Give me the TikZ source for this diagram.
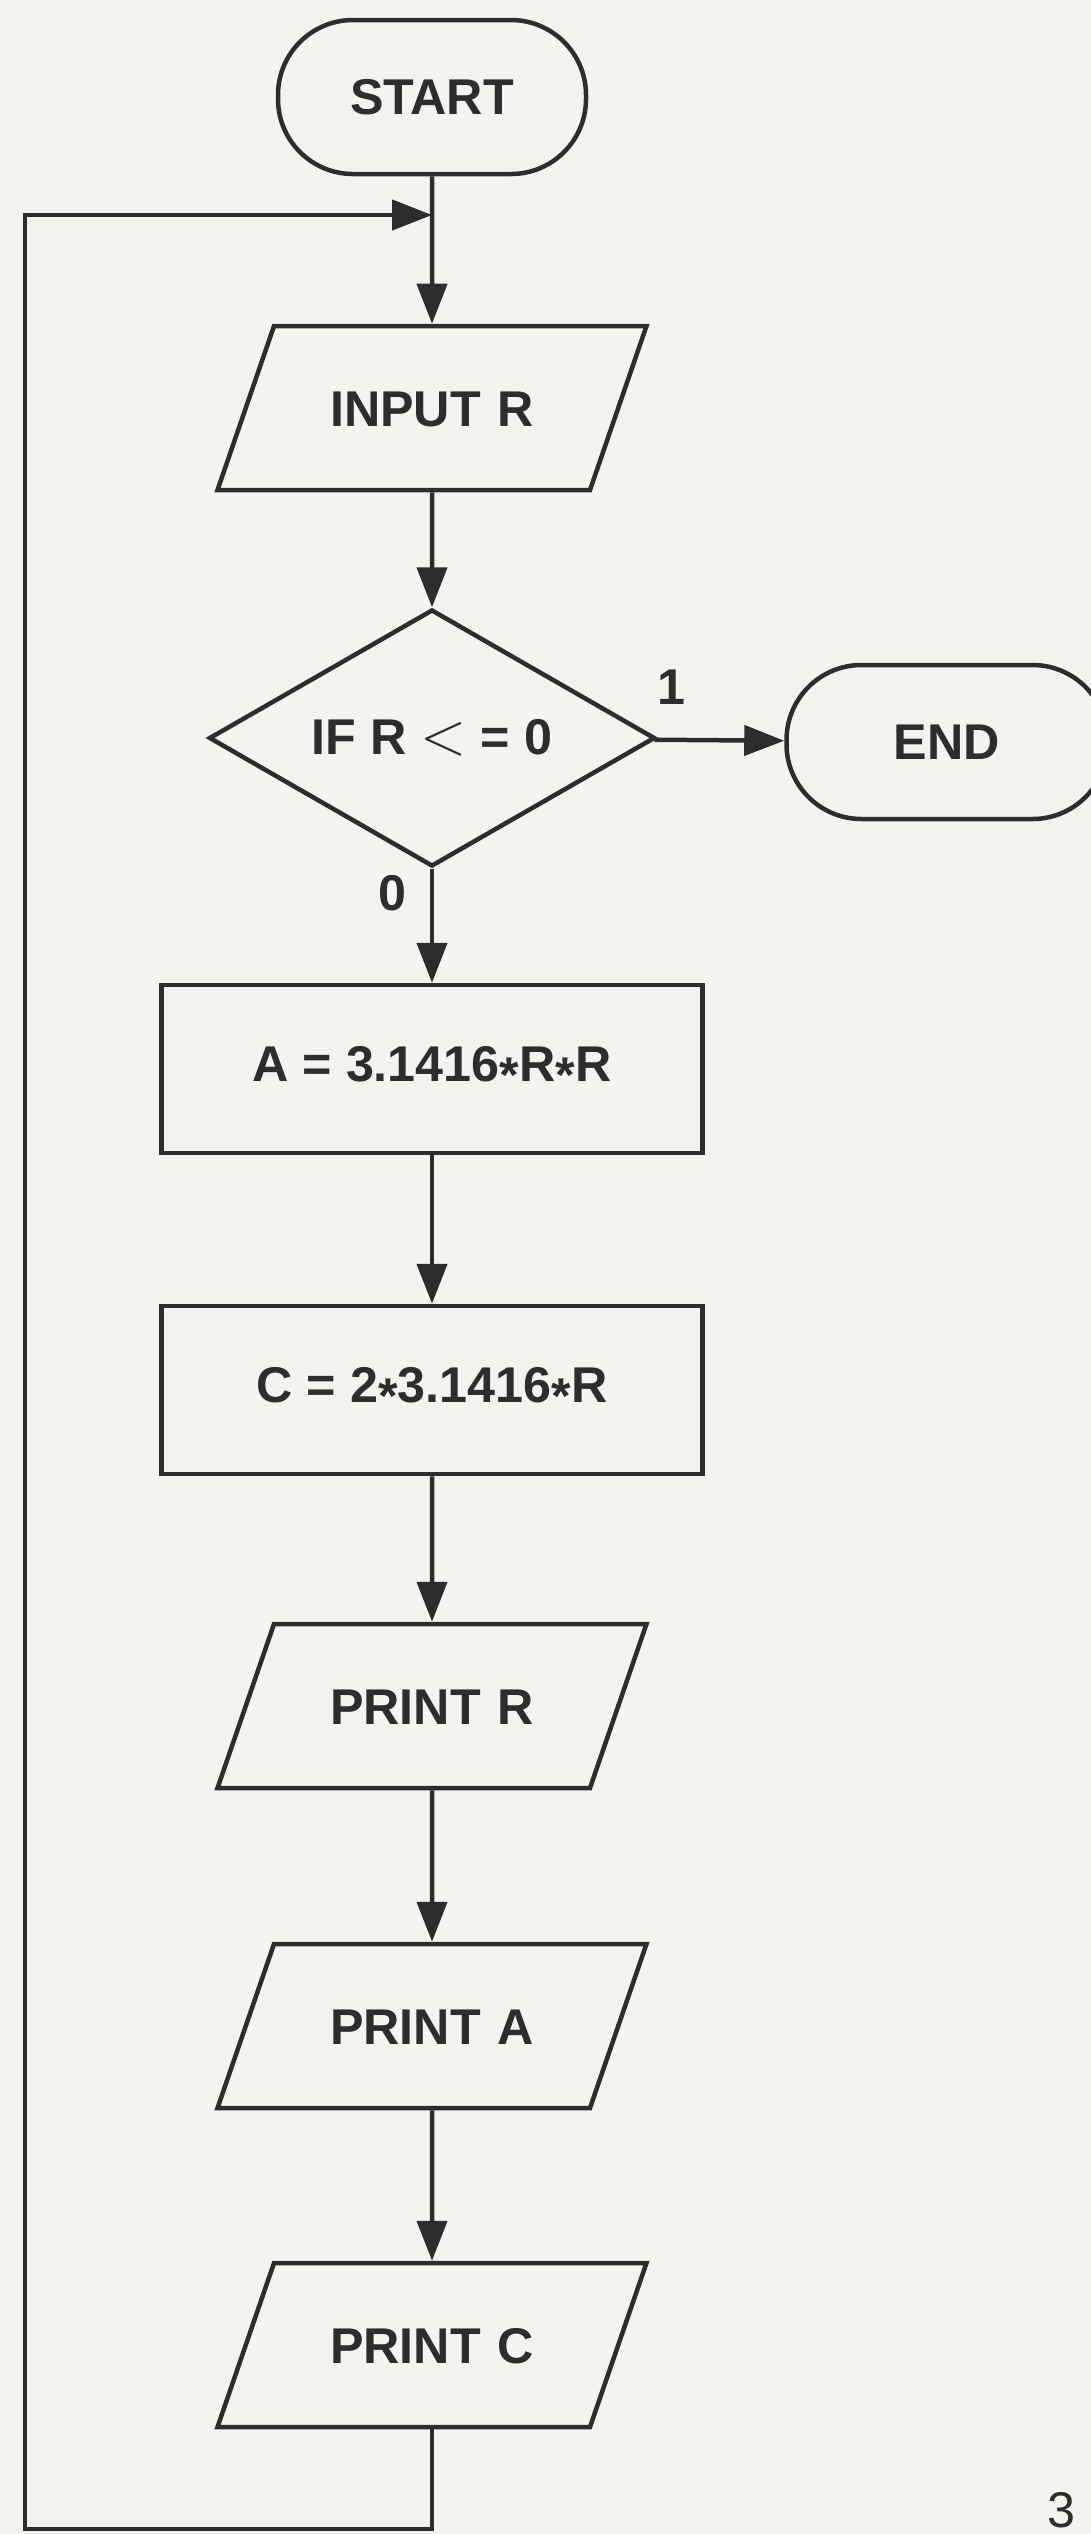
\documentclass[tikz,border=0pt]{standalone}
\usepackage{fontspec}
\setmainfont{Liberation Sans}
\usetikzlibrary{arrows.meta,shapes.geometric}
\definecolor{ChartInk}{RGB}{45,45,45}
\definecolor{ChartPaper}{RGB}{243,243,240}
\newcommand{\mulstar}{\raisebox{-0.22em}{*}}

\begin{document}
\begin{tikzpicture}[x=0.1mm,y=-0.1mm,
  every node/.style={font=\bfseries\fontsize{14.3pt}{17pt}\selectfont,text=ChartInk},
  box/.style={draw=ChartInk,line width=0.45mm,inner sep=0pt},
  terminal/.style={box,rectangle,rounded corners=7.5mm,minimum height=15.4mm},
  io/.style={box,trapezium,trapezium left angle=71,trapezium right angle=109,text width=31.6mm,align=center,text height=3.6mm,text depth=0pt,inner ysep=6.4mm},
  proc/.style={box,rectangle,minimum width=54.1mm,minimum height=16.8mm},
  decision/.style={box,diamond,aspect=1.73,minimum width=44.6mm,minimum height=25.7mm},
  flow/.style={draw=ChartInk,line width=0.45mm,-{Triangle[length=4mm,width=3mm]}},
  lbl/.style={inner sep=0pt}]
\fill[ChartPaper] (0,0) rectangle (1091,2534);
\useasboundingbox (0,0) rectangle (1091,2534);
\node[terminal,minimum width=30.8mm] (start) at (432,97) {START};
\node[io] (input) at (432,408) {INPUT R};
\node[decision] (test) at (432,738) {IF R \scalebox{1.2}{$<$} = 0};
\node[terminal,minimum width=32.1mm] (end) at (947,742) {END};
\node[proc] (area) at (432,1069) {A = 3.1416\mulstar R\mulstar R};
\node[proc] (circ) at (432,1390) {C = 2\mulstar 3.1416\mulstar R};
\node[io] (printr) at (432,1706) {PRINT R};
\node[io] (printa) at (432,2026) {PRINT A};
\node[io] (printc) at (432,2345) {PRINT C};
\node[lbl,font=\fontsize{14.3pt}{17pt}\selectfont,anchor=north] (page) at (1061,2492) {3};
\coordinate (join) at (432,215);
\coordinate (corner) at (25,2529);
% main column
\draw[flow] (start) -- (input);
\draw[flow] (input) -- (test);
\draw[flow] (test) -- node[lbl,pos=0.13,anchor=south,yshift=3.3mm] (yes) {1} (end);
\draw[flow] (test) -- node[lbl,pos=0.21,anchor=east,xshift=-2.3mm] (no) {0} (area);
\draw[flow] (area) -- (circ);
\draw[flow] (circ) -- (printr);
\draw[flow] (printr) -- (printa);
\draw[flow] (printa) -- (printc);
% back to the input
\draw[flow] (printc.south) |- (corner) |- (join);
\end{tikzpicture}
\end{document}
